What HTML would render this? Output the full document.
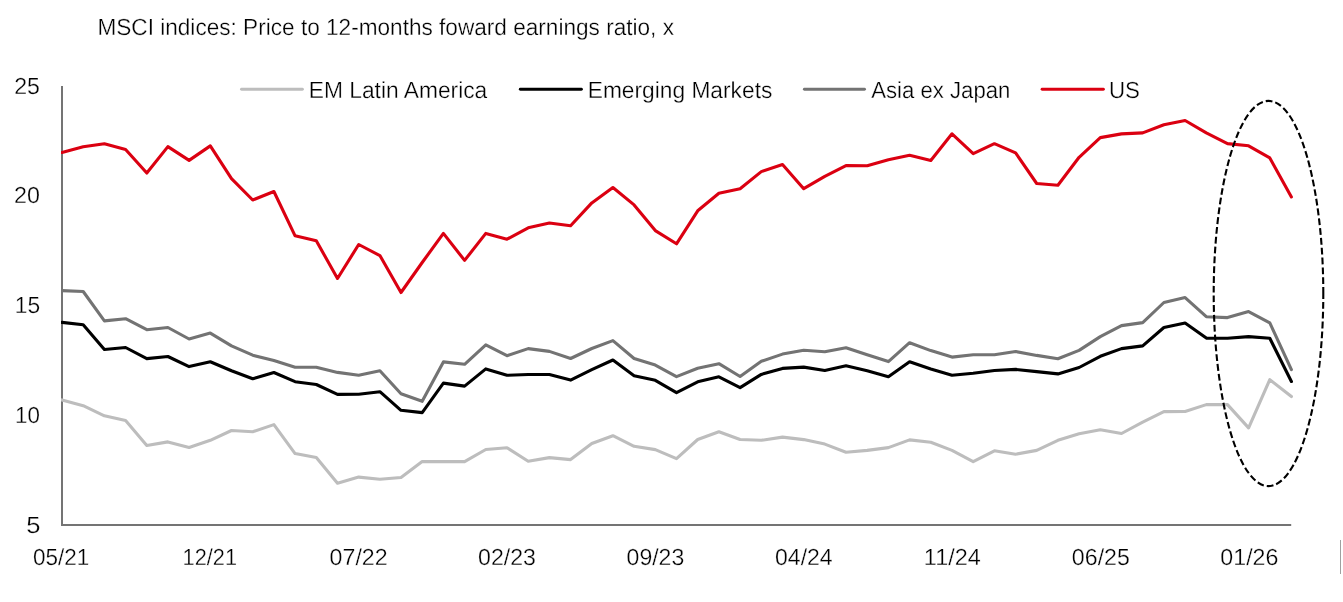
<!DOCTYPE html>
<html><head><meta charset="utf-8"><title>MSCI indices</title>
<style>
html,body{margin:0;padding:0;background:#fff;}
body{width:1343px;height:602px;overflow:hidden;}
svg{display:block;will-change:transform;}
svg text{font-family:"Liberation Sans",sans-serif;fill:#000;text-rendering:geometricPrecision;}
</style></head><body>
<svg width="1343" height="602" viewBox="0 0 1343 602">
<path d="M62,85.9 V524.9 H1291.2" fill="none" stroke="#747474" stroke-width="2" stroke-linejoin="miter"/>
<clipPath id="c"><rect x="61" y="0" width="1290" height="602"/></clipPath><g clip-path="url(#c)">
<polyline points="62.0,399.9 83.2,405.7 104.4,415.8 125.6,420.6 146.8,445.5 167.9,441.9 189.1,447.5 210.3,440.3 231.5,430.5 252.7,431.7 273.9,424.6 295.1,453.6 316.3,457.6 337.5,483.3 358.7,477.1 379.9,479.3 401.0,477.5 422.2,461.6 443.4,461.6 464.6,461.6 485.8,449.5 507.0,447.7 528.2,461.2 549.4,457.6 570.6,459.6 591.8,443.5 612.9,435.7 634.1,446.3 655.3,449.6 676.5,458.6 697.7,439.5 718.9,431.7 740.1,439.5 761.3,440.3 782.5,437.1 803.7,439.6 824.8,444.1 846.0,452.2 867.2,450.4 888.4,447.6 909.6,439.9 930.8,442.3 952.0,450.4 973.2,461.6 994.4,450.8 1015.6,454.2 1036.7,450.4 1057.9,440.3 1079.1,433.7 1100.3,429.7 1121.5,433.5 1142.7,422.1 1163.9,411.6 1185.1,411.5 1206.3,404.6 1227.5,404.6 1248.6,427.9 1269.8,379.6 1291.4,396.5" fill="none" stroke="#bdbdbd" stroke-width="3.1" stroke-linejoin="round" stroke-linecap="round"/>
<polyline points="62.0,322.4 83.2,324.7 104.4,349.5 125.6,347.5 146.8,358.6 167.9,356.5 189.1,366.6 210.3,361.7 231.5,370.7 252.7,378.8 273.9,372.5 295.1,381.7 316.3,384.5 337.5,394.4 358.7,394.3 379.9,391.7 401.0,410.3 422.2,412.6 443.4,383.1 464.6,386.1 485.8,368.9 507.0,375.3 528.2,374.5 549.4,374.5 570.6,380.1 591.8,369.7 612.9,360.0 634.1,375.7 655.3,380.3 676.5,392.7 697.7,381.8 718.9,376.8 740.1,387.6 761.3,374.4 782.5,368.4 803.7,367.1 824.8,370.5 846.0,365.8 867.2,370.7 888.4,376.7 909.6,361.7 930.8,369.0 952.0,375.2 973.2,373.3 994.4,370.5 1015.6,369.4 1036.7,371.6 1057.9,373.9 1079.1,367.5 1100.3,356.3 1121.5,348.6 1142.7,345.9 1163.9,327.5 1185.1,323.0 1206.3,338.1 1227.5,338.3 1248.6,336.6 1269.8,338.3 1291.4,381.5" fill="none" stroke="#000" stroke-width="3.1" stroke-linejoin="round" stroke-linecap="round"/>
<polyline points="62.0,290.6 83.2,291.5 104.4,320.9 125.6,318.7 146.8,329.7 167.9,327.5 189.1,339.0 210.3,333.1 231.5,345.9 252.7,355.2 273.9,360.6 295.1,367.3 316.3,367.3 337.5,372.4 358.7,375.3 379.9,370.8 401.0,393.7 422.2,401.3 443.4,361.9 464.6,364.3 485.8,344.9 507.0,355.7 528.2,348.6 549.4,351.4 570.6,358.5 591.8,348.5 612.9,340.6 634.1,358.5 655.3,365.1 676.5,376.6 697.7,368.2 718.9,363.7 740.1,376.5 761.3,361.3 782.5,354.1 803.7,350.2 824.8,351.8 846.0,347.7 867.2,354.8 888.4,361.6 909.6,342.7 930.8,350.6 952.0,357.1 973.2,354.7 994.4,354.7 1015.6,351.5 1036.7,355.4 1057.9,358.8 1079.1,350.4 1100.3,336.6 1121.5,325.6 1142.7,322.6 1163.9,302.5 1185.1,297.6 1206.3,316.7 1227.5,317.6 1248.6,311.6 1269.8,322.8 1291.4,369.6" fill="none" stroke="#737373" stroke-width="3.1" stroke-linejoin="round" stroke-linecap="round"/>
<polyline points="62.0,152.5 83.2,146.8 104.4,143.7 125.6,149.5 146.8,173.0 167.9,146.6 189.1,160.4 210.3,145.9 231.5,178.7 252.7,200.0 273.9,191.5 295.1,235.8 316.3,240.8 337.5,278.5 358.7,244.5 379.9,255.6 401.0,292.5 422.2,262.5 443.4,233.4 464.6,260.4 485.8,233.4 507.0,239.2 528.2,227.8 549.4,223.0 570.6,225.8 591.8,202.9 612.9,187.5 634.1,204.9 655.3,230.6 676.5,243.8 697.7,210.8 718.9,193.3 740.1,188.8 761.3,171.6 782.5,164.5 803.7,188.7 824.8,176.3 846.0,165.6 867.2,165.7 888.4,159.7 909.6,155.2 930.8,160.5 952.0,133.8 973.2,153.7 994.4,143.7 1015.6,152.9 1036.7,183.5 1057.9,185.2 1079.1,157.3 1100.3,137.6 1121.5,133.9 1142.7,132.9 1163.9,124.7 1185.1,120.5 1206.3,132.9 1227.5,143.6 1248.6,145.8 1269.8,157.9 1291.4,196.9" fill="none" stroke="#db0011" stroke-width="3.1" stroke-linejoin="round" stroke-linecap="round"/>
</g>
<line x1="241.5" y1="89.3" x2="302.4" y2="89.3" stroke="#bdbdbd" stroke-width="2.9" stroke-linecap="round"/>
<line x1="520.3" y1="89.3" x2="581.4" y2="89.3" stroke="#000" stroke-width="2.9" stroke-linecap="round"/>
<line x1="804.4" y1="89.3" x2="864.5" y2="89.3" stroke="#737373" stroke-width="2.9" stroke-linecap="round"/>
<line x1="1042.1" y1="89.3" x2="1103.4" y2="89.3" stroke="#db0011" stroke-width="2.9" stroke-linecap="round"/>
<text x="97.44" y="34.9" font-size="23.3" textLength="576.54" lengthAdjust="spacingAndGlyphs" stroke="#fff" stroke-width="0.3">MSCI indices: Price to 12-months foward earnings ratio, x</text>
<text x="308.81" y="98.0" font-size="23.3" textLength="178.47" lengthAdjust="spacingAndGlyphs" stroke="#fff" stroke-width="0.3">EM Latin America</text>
<text x="587.73" y="98.0" font-size="23.3" textLength="184.61" lengthAdjust="spacingAndGlyphs" stroke="#fff" stroke-width="0.3">Emerging Markets</text>
<text x="871.20" y="98.0" font-size="23.3" textLength="139.21" lengthAdjust="spacingAndGlyphs" stroke="#fff" stroke-width="0.3">Asia ex Japan</text>
<text x="1108.91" y="98.0" font-size="23.3" textLength="31.03" lengthAdjust="spacingAndGlyphs" stroke="#fff" stroke-width="0.3">US</text>
<text x="14.20" y="93.9" font-size="23.3" textLength="25.80" lengthAdjust="spacingAndGlyphs" stroke="#fff" stroke-width="0.3">25</text>
<text x="14.05" y="202.9" font-size="23.3" textLength="25.90" lengthAdjust="spacingAndGlyphs" stroke="#fff" stroke-width="0.3">20</text>
<text x="14.75" y="312.9" font-size="23.3" textLength="25.40" lengthAdjust="spacingAndGlyphs" stroke="#fff" stroke-width="0.3">15</text>
<text x="15.05" y="422.9" font-size="23.3" textLength="24.91" lengthAdjust="spacingAndGlyphs" stroke="#fff" stroke-width="0.3">10</text>
<text x="26.30" y="532.6" font-size="23.3" textLength="14.23" lengthAdjust="spacingAndGlyphs" stroke="#fff" stroke-width="0.3">5</text>
<text x="32.96" y="564.9" font-size="23.3" textLength="56.33" lengthAdjust="spacingAndGlyphs" stroke="#fff" stroke-width="0.3">05/21</text>
<text x="182.55" y="564.9" font-size="23.3" textLength="54.45" lengthAdjust="spacingAndGlyphs" stroke="#fff" stroke-width="0.3">12/21</text>
<text x="329.62" y="564.9" font-size="23.3" textLength="58.04" lengthAdjust="spacingAndGlyphs" stroke="#fff" stroke-width="0.3">07/22</text>
<text x="478.05" y="564.9" font-size="23.3" textLength="57.85" lengthAdjust="spacingAndGlyphs" stroke="#fff" stroke-width="0.3">02/23</text>
<text x="626.57" y="564.9" font-size="23.3" textLength="57.73" lengthAdjust="spacingAndGlyphs" stroke="#fff" stroke-width="0.3">09/23</text>
<text x="775.07" y="564.9" font-size="23.3" textLength="57.59" lengthAdjust="spacingAndGlyphs" stroke="#fff" stroke-width="0.3">04/24</text>
<text x="923.87" y="564.9" font-size="23.3" textLength="56.89" lengthAdjust="spacingAndGlyphs" stroke="#fff" stroke-width="0.3">11/24</text>
<text x="1071.86" y="564.9" font-size="23.3" textLength="57.99" lengthAdjust="spacingAndGlyphs" stroke="#fff" stroke-width="0.3">06/25</text>
<text x="1220.34" y="564.9" font-size="23.3" textLength="58.08" lengthAdjust="spacingAndGlyphs" stroke="#fff" stroke-width="0.3">01/26</text>
<ellipse cx="1268.5" cy="293.5" rx="54.8" ry="192.6" fill="none" stroke="#000" stroke-width="2.1" stroke-dasharray="6.8 3" stroke-dashoffset="1.2"/>
<rect x="1340" y="540" width="1" height="34" fill="#a0a0a0"/>
</svg>
</body></html>
